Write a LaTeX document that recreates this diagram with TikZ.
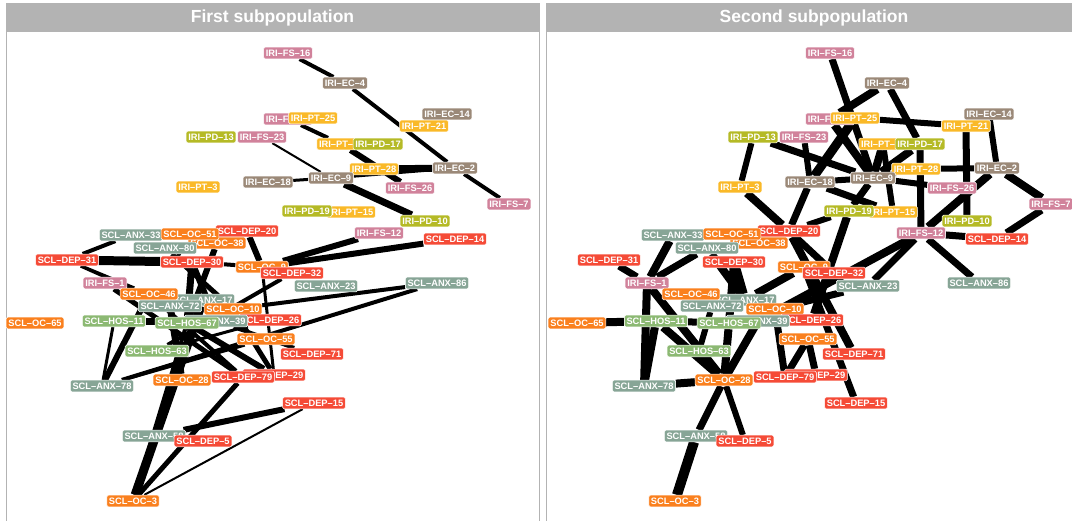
\documentclass[tikz,border=0pt]{standalone}
\usepackage{fontspec}
\setmainfont{Liberation Sans}
\usetikzlibrary{backgrounds}
\definecolor{fscol}{RGB}{209,130,155}
\definecolor{eccol}{RGB}{155,137,120}
\definecolor{ptcol}{RGB}{250,185,40}
\definecolor{pdcol}{RGB}{181,186,38}
\definecolor{depcol}{RGB}{245,75,55}
\definecolor{occol}{RGB}{250,128,30}
\definecolor{anxcol}{RGB}{135,165,150}
\definecolor{hoscol}{RGB}{140,185,115}
\definecolor{stripcol}{RGB}{179,179,179}
\tikzset{
tag/.style = {rounded corners=1.5pt, draw=white, line width=0.5pt, text=white,
              font=\bfseries\fontsize{9.3}{9.3}\selectfont, inner xsep=2.2pt,
              inner ysep=2.5pt, text height=6.7pt, text depth=0pt},
fsbox/.style = {tag, fill=fscol},
ecbox/.style = {tag, fill=eccol},
ptbox/.style = {tag, fill=ptcol},
pdbox/.style = {tag, fill=pdcol},
depbox/.style = {tag, fill=depcol},
ocbox/.style = {tag, fill=occol},
anxbox/.style = {tag, fill=anxcol},
hosbox/.style = {tag, fill=hoscol},
strip/.style = {text=white, font=\bfseries\fontsize{17.5}{17.5}\selectfont},
frame/.style = {draw=stripcol, line width=0.8pt}
}
\newcommand{\lab}[4]{\node[#1] (\pn#2) at (#3) {#4};}
\newcommand{\edge}[3]{\draw[line width=#3pt] (\pn#1) -- (\pn#2);}
% all labels, same place in both panels
\newcommand{\allnodes}{%
    \lab{fsbox}{fs16}{288,53}{IRI–FS–16}
    \lab{ecbox}{ec4}{345,83}{IRI–EC–4}
    \lab{ecbox}{ec14}{447,114}{IRI–EC–14}
    \lab{ptbox}{pt21}{424,126}{IRI–PT–21}
    \lab{fsbox}{fsx}{288,119}{IRI–FS–20}
    \lab{ptbox}{pt25}{313,118}{IRI–PT–25}
    \lab{pdbox}{pd13}{211,137}{IRI–PD–13}
    \lab{fsbox}{fs23}{262,137}{IRI–FS–23}
    \lab{ptbox}{ptx}{341,144}{IRI–PT–11}
    \lab{pdbox}{pd17}{378,144}{IRI–PD–17}
    \lab{ptbox}{pt28}{374,169}{IRI–PT–28}
    \lab{ecbox}{ec2}{455,168}{IRI–EC–2}
    \lab{ecbox}{ec18}{268,182}{IRI–EC–18}
    \lab{ecbox}{ec9}{331,178}{IRI–EC–9}
    \lab{fsbox}{fs26}{410,188}{IRI–FS–26}
    \lab{ptbox}{pt3}{198,187}{IRI–PT–3}
    \lab{fsbox}{fs7}{509,204}{IRI–FS–7}
    \lab{ptbox}{pt15}{351,212}{IRI–PT–15}
    \lab{pdbox}{pd19}{307,211}{IRI–PD–19}
    \lab{pdbox}{pd10}{425,221}{IRI–PD–10}
    \lab{fsbox}{fs12}{379,233}{IRI–FS–12}
    \lab{depbox}{dep14}{455,239}{SCL–DEP–14}
    \lab{anxbox}{anx33}{131,235}{SCL–ANX–33}
    \lab{depbox}{dep20}{247,231}{SCL–DEP–20}
    \lab{ocbox}{oc38}{217,243}{SCL–OC–38}
    \lab{ocbox}{oc51}{190,234}{SCL–OC–51}
    \lab{anxbox}{anx80}{165,248}{SCL–ANX–80}
    \lab{depbox}{dep31}{67,260}{SCL–DEP–31}
    \lab{depbox}{dep30}{192,262}{SCL–DEP–30}
    \lab{ocbox}{oc9}{262,267}{SCL–OC–9}
    \lab{depbox}{dep32}{292,273}{SCL–DEP–32}
    \lab{anxbox}{anx23}{326,286}{SCL–ANX–23}
    \lab{anxbox}{anx86}{437,283}{SCL–ANX–86}
    \lab{fsbox}{fs1}{105,283}{IRI–FS–1}
    \lab{anxbox}{anx17}{203,300}{SCL–ANX–17}
    \lab{ocbox}{oc46}{149,294}{SCL–OC–46}
    \lab{ocbox}{oc10}{233,309}{SCL–OC–10}
    \lab{anxbox}{anx72}{170,306}{SCL–ANX–72}
    \lab{ocbox}{oc65}{35,323}{SCL–OC–65}
    \lab{hosbox}{hos11}{114,321}{SCL–HOS–11}
    \lab{depbox}{dep26}{270,320}{SCL–DEP–26}
    \lab{anxbox}{anx39}{216,321}{SCL–ANX–39}
    \lab{hosbox}{hos67}{187,323}{SCL–HOS–67}
    \lab{ocbox}{oc55}{266,339}{SCL–OC–55}
    \lab{hosbox}{hos63}{157,351}{SCL–HOS–63}
    \lab{depbox}{dep71}{312,354}{SCL–DEP–71}
    \lab{anxbox}{anx78}{102,386}{SCL–ANX–78}
    \lab{ocbox}{oc28}{182,380}{SCL–OC–28}
    \lab{depbox}{dep29}{274,375}{SCL–DEP–29}
    \lab{depbox}{dep79}{243,377}{SCL–DEP–79}
    \lab{depbox}{dep15}{314,403}{SCL–DEP–15}
    \lab{anxbox}{anxx}{154,436}{SCL–ANX–58}
    \lab{depbox}{dep5}{203,441}{SCL–DEP–5}
    \lab{ocbox}{oc3}{133,501}{SCL–OC–3}
}

\begin{document}
\begin{tikzpicture}[x=1pt, y=-1pt]
    \useasboundingbox (0,0) rectangle (1072,520);

    % first panel
    \def\pn{L}
    \draw[frame] (6,3) rectangle (539,540);
    \fill[stripcol] (6,3) rectangle (539,32);
    \node[strip] (title1) at (272.5,17.5) {First subpopulation};
    \allnodes
    \begin{scope}[on background layer]
    \edge{fs16}{ec4}{4}
    \edge{ec4}{ec2}{4}
    \edge{ec2}{fs7}{4}
    \edge{fsx}{ptx}{4}
    \edge{ptx}{fs26}{6}
    \edge{fs23}{ec9}{2}
    \edge{ec18}{ec9}{3}
    \edge{ec9}{ec2}{3}
    \edge{pt28}{ec2}{7}
    \edge{ec9}{pd10}{7}
    \edge{fs12}{oc9}{6}
    \edge{dep14}{oc9}{6}
    \edge{dep31}{dep30}{9}
    \edge{dep31}{anx33}{4}
    \edge{dep31}{oc46}{3}
    \edge{dep31}{anx72}{3}
    \edge{anx80}{dep30}{6}
    \edge{dep30}{hos67}{7}
    \edge{dep30}{anx39}{6}
    \edge{anx80}{oc10}{5}
    \edge{oc38}{hos67}{6}
    \edge{dep30}{oc9}{4}
    \edge{dep20}{oc9}{6}
    \edge{oc9}{dep29}{3}
    \edge{anx86}{oc10}{4}
    \edge{anx86}{anx78}{4}
    \edge{anx78}{oc55}{3}
    \edge{anx78}{hos11}{3}
    \edge{anx78}{oc46}{6}
    \edge{hos11}{anx39}{7}
    \edge{fs1}{dep79}{5}
    \edge{anx72}{oc28}{7}
    \edge{hos67}{dep29}{6}
    \edge{anx39}{dep71}{4}
    \edge{dep32}{hos63}{4}
    \edge{oc10}{dep29}{5}
    \edge{oc46}{dep79}{4}
    \edge{hos63}{dep26}{3}
    \edge{hos67}{oc3}{4}
    \edge{anx17}{oc3}{9}
    \edge{dep79}{oc3}{5}
    \edge{dep15}{oc3}{2}
    \edge{anxx}{dep15}{6}
    \end{scope}

    % second panel
    \tikzset{shift={(542,0)}};
    \def\pn{R}
    \draw[frame] (4,3) rectangle (540,540);
    \fill[stripcol] (4,3) rectangle (540,32);
    \node[strip] (title2) at (272,17.5) {Second subpopulation};
    \allnodes
    \begin{scope}[on background layer]
    \edge{fs16}{ec9}{7}
    \edge{ec4}{fsx}{8}
    \edge{ec4}{pd17}{7}
    \edge{pt25}{ec18}{9}
    \edge{fsx}{ec9}{8}
    \edge{pd13}{ec9}{7}
    \edge{pd13}{pt3}{6}
    \edge{fs23}{ec18}{6}
    \edge{ec18}{ec9}{6}
    \edge{ptx}{ec9}{8}
    \edge{pd17}{ec9}{8}
    \edge{ec9}{pt28}{6}
    \edge{pt25}{pt21}{6}
    \edge{pt21}{pd10}{7}
    \edge{ec14}{ec2}{6}
    \edge{pt28}{ec2}{6}
    \edge{ec2}{fs7}{8}
    \edge{ec2}{fs12}{8}
    \edge{fs7}{dep14}{7}
    \edge{fs12}{dep14}{7}
    \edge{fs12}{anx86}{7}
    \edge{fs12}{anx23}{7}
    \edge{pd17}{fs12}{7}
    \edge{ec9}{fs26}{6}
    \edge{ec18}{pt15}{7}
    \edge{ec18}{dep20}{7}
    \edge{pt3}{dep20}{8}
    \edge{ec9}{pd19}{7}
    \edge{ptx}{pt15}{6}
    \edge{pd19}{dep20}{6}
    \edge{pd19}{dep26}{8}
    \edge{fs12}{anx39}{8}
    \edge{dep20}{dep71}{8}
    \edge{anx23}{oc10}{7}
    \edge{oc9}{dep15}{7}
    \edge{oc55}{dep79}{7}
    \edge{oc55}{dep29}{7}
    \edge{oc10}{dep79}{7}
    \edge{oc65}{hos11}{8}
    \edge{dep31}{fs1}{7}
    \edge{fs1}{anx33}{8}
    \edge{fs1}{anx80}{7}
    \edge{fs1}{anx78}{8}
    \edge{fs1}{oc28}{8}
    \edge{hos11}{hos67}{7}
    \edge{hos11}{anx78}{8}
    \edge{hos11}{oc28}{8}
    \edge{hos67}{oc28}{8}
    \edge{anx39}{oc28}{8}
    \edge{oc28}{anx78}{8}
    \edge{oc28}{anxx}{7}
    \edge{anxx}{oc3}{10}
    \edge{oc28}{dep5}{6}
    \edge{dep30}{anx17}{9}
    \edge{oc9}{anx17}{8}
    \edge{anx80}{anx17}{8}
    \edge{dep20}{dep32}{7}
    \edge{dep30}{hos67}{8}
    \edge{anx72}{hos63}{6}
    \end{scope}
\end{tikzpicture}
\end{document}
